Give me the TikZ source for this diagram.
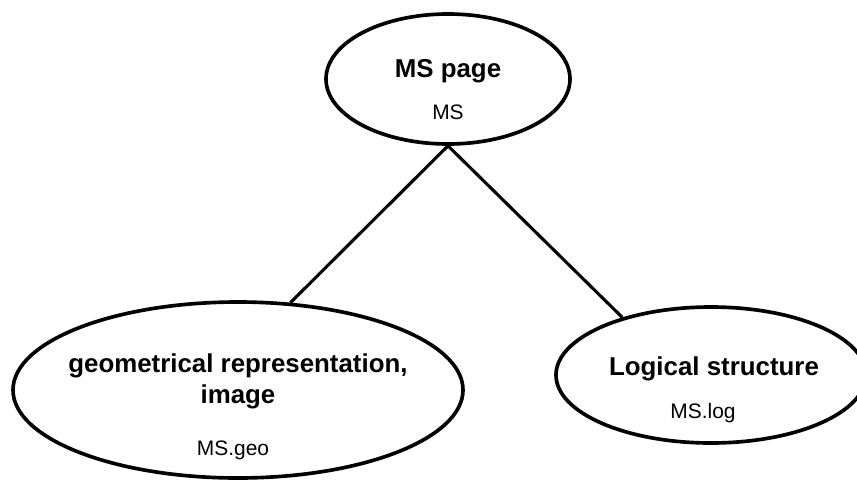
\documentclass[tikz,border=0pt]{standalone}
\usepackage{fontspec}
\setmainfont{Liberation Sans}
\usepackage{tikz}
\usetikzlibrary{shapes.geometric, positioning}
\tikzstyle{oval} = [ellipse, draw=black, line width=2.6pt, fill=white, inner sep=0pt]
\tikzstyle{title} = [font=\fontsize{18.4}{22}\selectfont\bfseries, align=center]
\tikzstyle{subtitle} = [font=\fontsize{14.9}{18}\selectfont, anchor=base]
\tikzstyle{link} = [line width=2.2pt, -]

\begin{document}
\begin{tikzpicture}[node distance = 7.4cm]
  \clip (-11.2,1.975) rectangle (10.225,-10);
  \node (page) [oval, minimum width=6.1cm, minimum height=3.25cm] {};
  \node (geo) [oval, below of = page, xshift = -5.25cm, yshift = -0.375cm, minimum width=11.25cm, minimum height=4.4cm] {};
  \node (log) [oval, below of = page, xshift = 6.575cm, minimum width=7.75cm, minimum height=3.4cm] {};
  \node (pagetitle) [title, anchor=base, yshift = 0.05cm] at (page) {MS page};
  \node (pagename) [subtitle, yshift = -1cm] at (page) {MS};
  \node (geotitle) [title, yshift = 0.225cm] at (geo) {geometrical representation,\\image};
  \node (geoname) [subtitle, xshift = -0.125cm, yshift = -1.625cm] at (geo) {MS.geo};
  \node (logtitle) [title, anchor=base, xshift = 0.075cm] at (log) {Logical structure};
  \node (logname) [subtitle, xshift = -0.2cm, yshift = -1.075cm] at (log) {MS.log};
  \draw [link] (page.south) -- (geo.59);
  \draw [link] (page.south) -- (log.147);
\end{tikzpicture}
\end{document}
